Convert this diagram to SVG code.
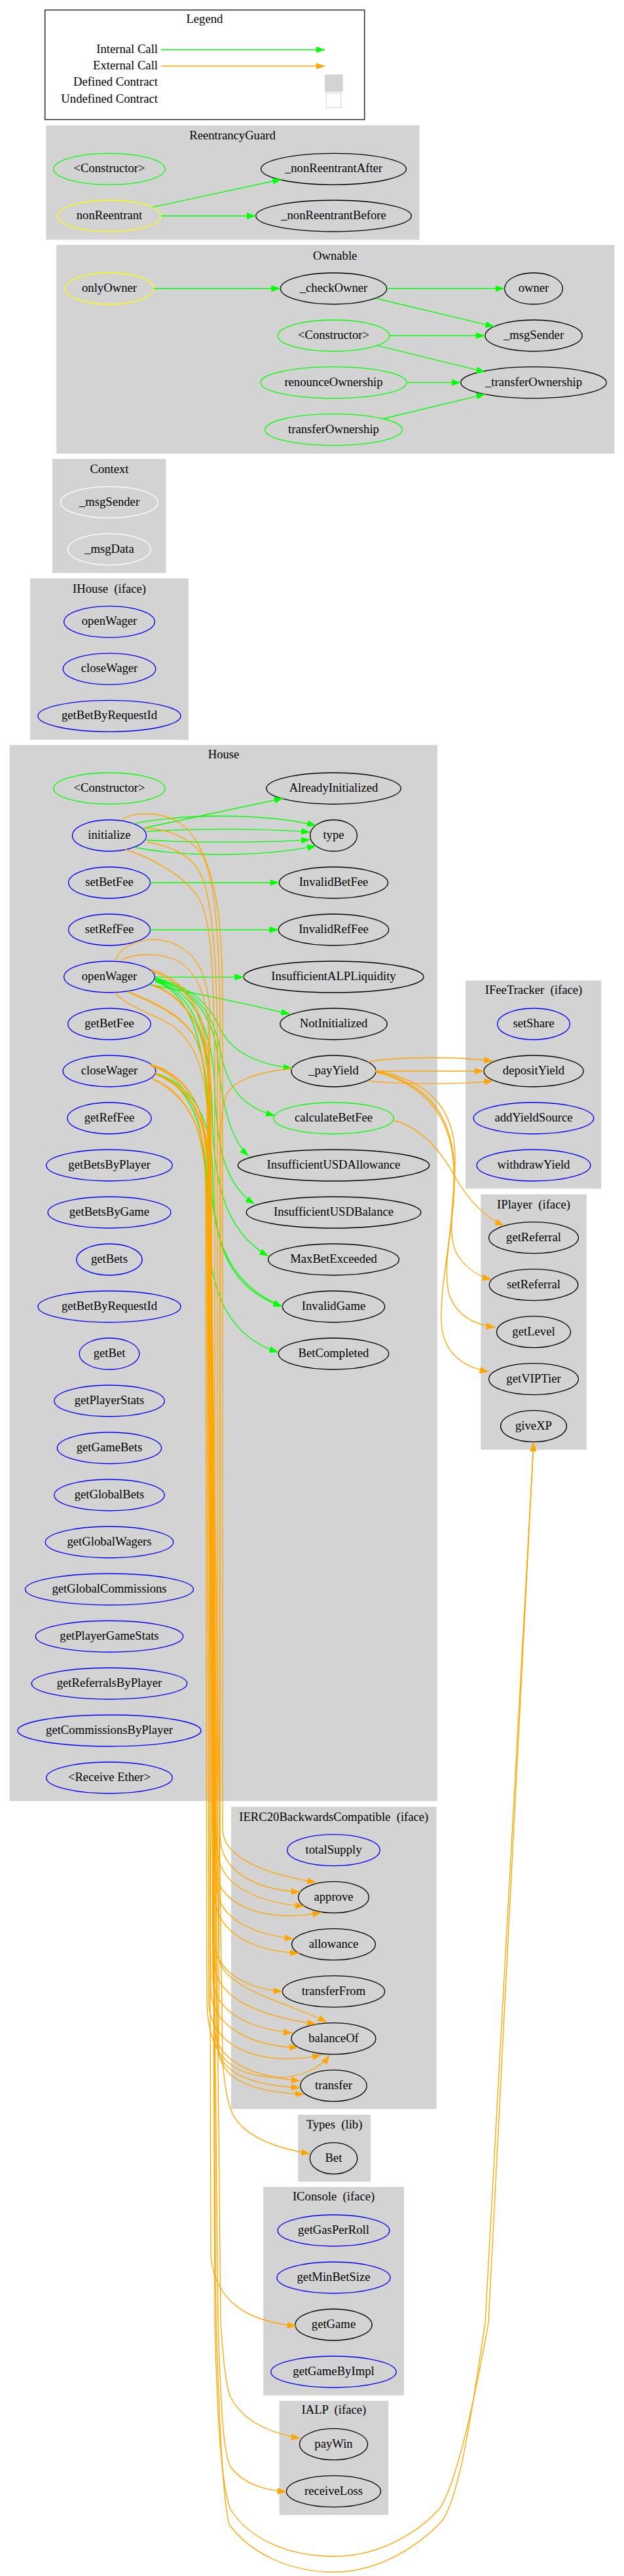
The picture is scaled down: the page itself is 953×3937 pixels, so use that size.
<svg xmlns="http://www.w3.org/2000/svg" width="953" height="3937" viewBox="0 0 953 3937">
<defs>
<style>
text{font-family:"Liberation Serif","Times New Roman",serif;font-size:18.67px;fill:#000;text-anchor:middle;white-space:pre}
.r{text-anchor:end}
.cl{fill:#d3d3d3;stroke:#d3d3d3;stroke-width:1.33}
ellipse{fill:none;stroke-width:1.33}
.g{stroke:#00ff00}.b{stroke:#0000ff}.y{stroke:#ffff00}.k{stroke:#000}.w{stroke:#fff}
.i{fill:none;stroke:#00ff00;stroke-width:1.33;marker-end:url(#ag)}
.e{fill:none;stroke:#ffa500;stroke-width:1.33;marker-end:url(#ao)}
</style>
<marker id="ag" markerUnits="userSpaceOnUse" markerWidth="14" markerHeight="10" viewBox="0 0 14 10" refX="14" refY="5" orient="auto"><path d="M0,0L14,5L0,10z" fill="#00ff00"/></marker>
<marker id="ao" markerUnits="userSpaceOnUse" markerWidth="14" markerHeight="10" viewBox="0 0 14 10" refX="14" refY="5" orient="auto"><path d="M0,0L14,5L0,10z" fill="#ffa500"/></marker>
</defs>
<rect width="953" height="3937" fill="#fff"/>

<g id="legend">
<rect x="68.7" y="15.3" width="488" height="167.4" fill="#fff" stroke="#333" stroke-width="1.6"/>
<text x="312.4" y="35">Legend</text>
<text class="r" x="241" y="81">Internal Call</text>
<text class="r" x="241" y="106">External Call</text>
<text class="r" x="241" y="131">Defined Contract</text>
<text class="r" x="241" y="157">Undefined Contract</text>
<path class="i" d="M246,76H496.5"/>
<path class="e" d="M246,101H496.5"/>
<rect x="496.5" y="114.3" width="26.7" height="25.7" fill="#d3d3d3" stroke="#d3d3d3"/>
<rect x="498.3" y="142.3" width="22.5" height="22" fill="#fff" stroke="#d3d3d3"/>
</g>

<g id="cluster_ReentrancyGuard">
<rect class="cl" x="71.1" y="192.3" width="568.8" height="173.4"/>
<text x="355" y="213">ReentrancyGuard</text>
<g id="ReentrancyGuard.ctor"><ellipse class="g" cx="167" cy="258.3" rx="85.1" ry="24"/><text x="167" y="263.3">&lt;Constructor&gt;</text></g>
<g id="ReentrancyGuard._nonReentrantAfter"><ellipse class="k" cx="509.5" cy="258.3" rx="110.9" ry="24"/><text x="509.5" y="263.3">_nonReentrantAfter</text></g>
<g id="ReentrancyGuard.nonReentrant"><ellipse class="y" cx="167" cy="330" rx="79" ry="24"/><text x="167" y="335">nonReentrant</text></g>
<g id="ReentrancyGuard._nonReentrantBefore"><ellipse class="k" cx="509.5" cy="330" rx="118.8" ry="24"/><text x="509.5" y="335">_nonReentrantBefore</text></g>
</g>

<g id="cluster_Ownable">
<rect class="cl" x="86.9" y="375" width="850.8" height="317.7"/>
<text x="511.7" y="396.7">Ownable</text>
<g id="Ownable.onlyOwner"><ellipse class="y" cx="167" cy="441" rx="67.8" ry="24"/><text x="167" y="446">onlyOwner</text></g>
<g id="Ownable._checkOwner"><ellipse class="k" cx="509.5" cy="441" rx="81.1" ry="24"/><text x="509.5" y="446">_checkOwner</text></g>
<g id="Ownable.owner"><ellipse class="k" cx="815" cy="441" rx="44.4" ry="24"/><text x="815" y="446">owner</text></g>
<g id="Ownable._msgSender"><ellipse class="k" cx="815" cy="513" rx="74.1" ry="24"/><text x="815" y="518">_msgSender</text></g>
<g id="Ownable.ctor"><ellipse class="g" cx="509.5" cy="513" rx="85.1" ry="24"/><text x="509.5" y="518">&lt;Constructor&gt;</text></g>
<g id="Ownable._transferOwnership"><ellipse class="k" cx="815" cy="584.7" rx="111.2" ry="24"/><text x="815" y="589.7">_transferOwnership</text></g>
<g id="Ownable.renounceOwnership"><ellipse class="g" cx="509.5" cy="584.7" rx="111.5" ry="24"/><text x="509.5" y="589.7">renounceOwnership</text></g>
<g id="Ownable.transferOwnership"><ellipse class="g" cx="509.5" cy="656.7" rx="104.8" ry="24"/><text x="509.5" y="661.7">transferOwnership</text></g>
</g>

<g id="cluster_Context">
<rect class="cl" x="80.8" y="702" width="172" height="173"/>
<text x="167" y="722.7">Context</text>
<g id="Context._msgSender"><ellipse class="w" cx="167" cy="767.7" rx="74.4" ry="24"/><text x="167" y="772.7">_msgSender</text></g>
<g id="Context._msgData"><ellipse class="w" cx="167" cy="839.7" rx="63.2" ry="24"/><text x="167" y="844.7">_msgData</text></g>
</g>

<g id="cluster_IHouse">
<rect class="cl" x="46.8" y="884.7" width="240.6" height="245.3"/>
<text x="167" y="905.7">IHouse  (iface)</text>
<g id="IHouse.openWager"><ellipse class="b" cx="167" cy="950.3" rx="69.3" ry="24"/><text x="167" y="955.3">openWager</text></g>
<g id="IHouse.closeWager"><ellipse class="b" cx="167" cy="1022.3" rx="70.8" ry="24"/><text x="167" y="1027.3">closeWager</text></g>
<g id="IHouse.getBetByRequestId"><ellipse class="b" cx="167" cy="1094.3" rx="109.1" ry="24"/><text x="167" y="1099.3">getBetByRequestId</text></g>
</g>

<g id="cluster_House">
<rect class="cl" x="15.2" y="1139.3" width="652" height="1612.7"/>
<text x="341.5" y="1159.3">House</text>
<g id="House.ctor"><ellipse class="g" cx="167" cy="1205" rx="85.1" ry="24"/><text x="167" y="1210">&lt;Constructor&gt;</text></g>
<g id="House.initialize"><ellipse class="b" cx="167" cy="1277" rx="56.5" ry="24"/><text x="167" y="1282">initialize</text></g>
<g id="House.setBetFee"><ellipse class="b" cx="167" cy="1349" rx="62.3" ry="24"/><text x="167" y="1354">setBetFee</text></g>
<g id="House.setRefFee"><ellipse class="b" cx="167" cy="1421" rx="62.3" ry="24"/><text x="167" y="1426">setRefFee</text></g>
<g id="House.openWager"><ellipse class="b" cx="167" cy="1493" rx="69.3" ry="24"/><text x="167" y="1498">openWager</text></g>
<g id="House.getBetFee"><ellipse class="b" cx="167" cy="1565" rx="63.2" ry="24"/><text x="167" y="1570">getBetFee</text></g>
<g id="House.closeWager"><ellipse class="b" cx="167" cy="1637" rx="70.8" ry="24"/><text x="167" y="1642">closeWager</text></g>
<g id="House.getRefFee"><ellipse class="b" cx="167" cy="1709" rx="64.1" ry="24"/><text x="167" y="1714">getRefFee</text></g>
<g id="House.getBetsByPlayer"><ellipse class="b" cx="167" cy="1781" rx="96.3" ry="24"/><text x="167" y="1786">getBetsByPlayer</text></g>
<g id="House.getBetsByGame"><ellipse class="b" cx="167" cy="1853" rx="93.9" ry="24"/><text x="167" y="1858">getBetsByGame</text></g>
<g id="House.getBets"><ellipse class="b" cx="167" cy="1925" rx="50.1" ry="24"/><text x="167" y="1930">getBets</text></g>
<g id="House.getBetByRequestId"><ellipse class="b" cx="167" cy="1997" rx="109.1" ry="24"/><text x="167" y="2002">getBetByRequestId</text></g>
<g id="House.getBet"><ellipse class="b" cx="167" cy="2069" rx="45.9" ry="24"/><text x="167" y="2074">getBet</text></g>
<g id="House.getPlayerStats"><ellipse class="b" cx="167" cy="2141" rx="84.2" ry="24"/><text x="167" y="2146">getPlayerStats</text></g>
<g id="House.getGameBets"><ellipse class="b" cx="167" cy="2213" rx="79.6" ry="24"/><text x="167" y="2218">getGameBets</text></g>
<g id="House.getGlobalBets"><ellipse class="b" cx="167" cy="2285" rx="84.2" ry="24"/><text x="167" y="2290">getGlobalBets</text></g>
<g id="House.getGlobalWagers"><ellipse class="b" cx="167" cy="2357" rx="97.8" ry="24"/><text x="167" y="2362">getGlobalWagers</text></g>
<g id="House.getGlobalCommissions"><ellipse class="b" cx="167" cy="2429" rx="128.5" ry="24"/><text x="167" y="2434">getGlobalCommissions</text></g>
<g id="House.getPlayerGameStats"><ellipse class="b" cx="167" cy="2501" rx="112.7" ry="24"/><text x="167" y="2506">getPlayerGameStats</text></g>
<g id="House.getReferralsByPlayer"><ellipse class="b" cx="167" cy="2573" rx="118.8" ry="24"/><text x="167" y="2578">getReferralsByPlayer</text></g>
<g id="House.getCommissionsByPlayer"><ellipse class="b" cx="167" cy="2645" rx="140.1" ry="24"/><text x="167" y="2650">getCommissionsByPlayer</text></g>
<g id="House.receive"><ellipse class="b" cx="167" cy="2717" rx="96.3" ry="24"/><text x="167" y="2722">&lt;Receive Ether&gt;</text></g>
<g id="House.AlreadyInitialized"><ellipse class="k" cx="509.5" cy="1205" rx="102.7" ry="24"/><text x="509.5" y="1210">AlreadyInitialized</text></g>
<g id="House.type"><ellipse class="k" cx="509.5" cy="1277" rx="35.9" ry="24"/><text x="509.5" y="1282">type</text></g>
<g id="House.InvalidBetFee"><ellipse class="k" cx="509.5" cy="1349" rx="83" ry="24"/><text x="509.5" y="1354">InvalidBetFee</text></g>
<g id="House.InvalidRefFee"><ellipse class="k" cx="509.5" cy="1421" rx="84.2" ry="24"/><text x="509.5" y="1426">InvalidRefFee</text></g>
<g id="House.InsufficientALPLiquidity"><ellipse class="k" cx="509.5" cy="1493" rx="137.5" ry="24"/><text x="509.5" y="1498">InsufficientALPLiquidity</text></g>
<g id="House.NotInitialized"><ellipse class="k" cx="509.5" cy="1565" rx="81.7" ry="24"/><text x="509.5" y="1570">NotInitialized</text></g>
<g id="House._payYield"><ellipse class="k" cx="509.5" cy="1637" rx="64.5" ry="24"/><text x="509.5" y="1642">_payYield</text></g>
<g id="House.calculateBetFee"><ellipse class="g" cx="509.5" cy="1709" rx="91.7" ry="24"/><text x="509.5" y="1714">calculateBetFee</text></g>
<g id="House.InsufficientUSDAllowance"><ellipse class="k" cx="509.5" cy="1781" rx="146.2" ry="24"/><text x="509.5" y="1786">InsufficientUSDAllowance</text></g>
<g id="House.InsufficientUSDBalance"><ellipse class="k" cx="509.5" cy="1853" rx="133.4" ry="24"/><text x="509.5" y="1858">InsufficientUSDBalance</text></g>
<g id="House.MaxBetExceeded"><ellipse class="k" cx="509.5" cy="1925" rx="100" ry="24"/><text x="509.5" y="1930">MaxBetExceeded</text></g>
<g id="House.InvalidGame"><ellipse class="k" cx="509.5" cy="1997" rx="78.1" ry="24"/><text x="509.5" y="2002">InvalidGame</text></g>
<g id="House.BetCompleted"><ellipse class="k" cx="509.5" cy="2069" rx="84.2" ry="24"/><text x="509.5" y="2074">BetCompleted</text></g>
</g>

<g id="cluster_IFeeTracker">
<rect class="cl" x="711.7" y="1499.3" width="205.9" height="316.7"/>
<text x="815" y="1519.3">IFeeTracker  (iface)</text>
<g id="IFeeTracker.setShare"><ellipse class="b" cx="815" cy="1565" rx="55.3" ry="24"/><text x="815" y="1570">setShare</text></g>
<g id="IFeeTracker.depositYield"><ellipse class="k" cx="815" cy="1637" rx="76" ry="24"/><text x="815" y="1642">depositYield</text></g>
<g id="IFeeTracker.addYieldSource"><ellipse class="b" cx="815" cy="1709" rx="91.8" ry="24"/><text x="815" y="1714">addYieldSource</text></g>
<g id="IFeeTracker.withdrawYield"><ellipse class="b" cx="815" cy="1781" rx="86.9" ry="24"/><text x="815" y="1786">withdrawYield</text></g>
</g>

<g id="cluster_IPlayer">
<rect class="cl" x="735" y="1826" width="160.1" height="389"/>
<text x="815" y="1846.7">IPlayer  (iface)</text>
<g id="IPlayer.getReferral"><ellipse class="k" cx="815" cy="1891.7" rx="68.4" ry="24"/><text x="815" y="1896.7">getReferral</text></g>
<g id="IPlayer.setReferral"><ellipse class="k" cx="815" cy="1963.7" rx="67.8" ry="24"/><text x="815" y="1968.7">setReferral</text></g>
<g id="IPlayer.getLevel"><ellipse class="k" cx="815" cy="2035.7" rx="56.5" ry="24"/><text x="815" y="2040.7">getLevel</text></g>
<g id="IPlayer.getVIPTier"><ellipse class="k" cx="815" cy="2107.7" rx="68.4" ry="24"/><text x="815" y="2112.7">getVIPTier</text></g>
<g id="IPlayer.giveXP"><ellipse class="k" cx="815" cy="2179.7" rx="50.4" ry="24"/><text x="815" y="2184.7">giveXP</text></g>
</g>

<g id="cluster_IERC20BackwardsCompatible">
<rect class="cl" x="353.7" y="2762" width="312.3" height="460.7"/>
<text x="509.8" y="2782.7">IERC20BackwardsCompatible  (iface)</text>
<g id="IERC20.totalSupply"><ellipse class="b" cx="509.5" cy="2827.7" rx="70.8" ry="24"/><text x="509.5" y="2832.7">totalSupply</text></g>
<g id="IERC20.approve"><ellipse class="k" cx="509.5" cy="2899.7" rx="53.8" ry="24"/><text x="509.5" y="2904.7">approve</text></g>
<g id="IERC20.allowance"><ellipse class="k" cx="509.5" cy="2971.7" rx="63.8" ry="24"/><text x="509.5" y="2976.7">allowance</text></g>
<g id="IERC20.transferFrom"><ellipse class="k" cx="509.5" cy="3043.7" rx="78.1" ry="24"/><text x="509.5" y="3048.7">transferFrom</text></g>
<g id="IERC20.balanceOf"><ellipse class="k" cx="509.5" cy="3115.7" rx="64.4" ry="24"/><text x="509.5" y="3120.7">balanceOf</text></g>
<g id="IERC20.transfer"><ellipse class="k" cx="509.5" cy="3187.7" rx="50.7" ry="24"/><text x="509.5" y="3192.7">transfer</text></g>
</g>

<g id="cluster_Types">
<rect class="cl" x="455.8" y="3232.7" width="109.4" height="101"/>
<text x="510.5" y="3253.3">Types  (lib)</text>
<g id="Types.Bet"><ellipse class="k" cx="509.5" cy="3298.7" rx="36.2" ry="24"/><text x="509.5" y="3303.7">Bet</text></g>
</g>

<g id="cluster_IConsole">
<rect class="cl" x="402.9" y="3343" width="213.3" height="317.3"/>
<text x="509.6" y="3363.3">IConsole  (iface)</text>
<g id="IConsole.getGasPerRoll"><ellipse class="b" cx="509.5" cy="3409" rx="85.4" ry="24"/><text x="509.5" y="3414">getGasPerRoll</text></g>
<g id="IConsole.getMinBetSize"><ellipse class="b" cx="509.5" cy="3481" rx="86.6" ry="24"/><text x="509.5" y="3486">getMinBetSize</text></g>
<g id="IConsole.getGame"><ellipse class="k" cx="509.5" cy="3553" rx="58.6" ry="24"/><text x="509.5" y="3558">getGame</text></g>
<g id="IConsole.getGameByImpl"><ellipse class="b" cx="509.5" cy="3625" rx="95.7" ry="24"/><text x="509.5" y="3630">getGameByImpl</text></g>
</g>

<g id="cluster_IALP">
<rect class="cl" x="427.2" y="3670" width="165.3" height="173"/>
<text x="509.9" y="3689.3">IALP  (iface)</text>
<g id="IALP.payWin"><ellipse class="k" cx="509.5" cy="3735.7" rx="52" ry="24"/><text x="509.5" y="3740.7">payWin</text></g>
<g id="IALP.receiveLoss"><ellipse class="k" cx="509.5" cy="3807.7" rx="72" ry="24"/><text x="509.5" y="3812.7">receiveLoss</text></g>
</g>

<g id="edges">
<!-- internal calls -->
<path class="i" d="M232.7,316.7L430.2,274"/>
<path class="i" d="M246.1,330H390.8"/>
<path class="i" d="M234.6,441H428.4"/>
<path class="i" d="M590.7,441H770.6"/>
<path class="i" d="M574.3,456L755.4,499.3"/>
<path class="i" d="M594.9,513H740.8"/>
<path class="i" d="M577.3,528.3L741.4,568.7"/>
<path class="i" d="M621.1,584.7H703.7"/>
<path class="i" d="M585.2,640L741.4,602.3"/>
<path class="i" d="M217.6,1266L432.7,1220"/>
<path class="i" d="M206.6,1258.3C280,1244 400,1242 483.1,1261.7"/>
<path class="i" d="M223.6,1270.7C300,1266 400,1266 474,1271.7"/>
<path class="i" d="M223.6,1284C300,1288 400,1288 474,1283.3"/>
<path class="i" d="M206.6,1295C280,1310 400,1310 483.1,1292.7"/>
<path class="i" d="M229.1,1349H426.6"/>
<path class="i" d="M229.1,1421H425.4"/>
<path class="i" d="M236.7,1493.3H372.3"/>
<path class="i" d="M228.3,1505C300,1518 380,1535 443.3,1550"/>
<path class="i" d="M237,1495C290,1505 320,1535 337,1573C350,1600 380,1625 446.7,1632.7"/>
<path class="i" d="M237,1496C295,1510 325,1545 335,1600C345,1650 360,1690 420,1705"/>
<path class="i" d="M237,1497C300,1512 328,1560 333,1620C338,1680 350,1740 379.8,1766.7"/>
<path class="i" d="M237,1498C300,1515 325,1580 328,1660C330,1740 340,1810 388.9,1840"/>
<path class="i" d="M237,1499C300,1518 322,1600 324,1700C326,1800 340,1880 410.2,1920"/>
<path class="i" d="M237,1500C300,1520 318,1620 320,1760C321,1880 340,1960 431.5,1996.7"/>
<path class="i" d="M237,1640C300,1660 325,1720 325,1800C325,1900 350,1970 431.5,1996.7"/>
<path class="i" d="M237,1641C295,1660 318,1730 317,1850C316,1960 340,2040 425.4,2066.7"/>
<!-- external calls -->
<path class="e" d="M185,1254C200,1240 250,1238 280,1262C305,1282 325,1330 334,1400C338,1440 340,1480 340,1530L340,2795C340,2840 410,2866 483.1,2876.7"/>
<path class="e" d="M219,1266C255,1266 290,1280 308,1305C325,1335 334,1400 336,1550L336,2805C336,2860 390,2888 458.8,2891.7"/>
<path class="e" d="M224,1287C258,1292 285,1305 300,1325C318,1350 330,1410 332,1590L332,2825C332,2880 390,2908 464.9,2913.3"/>
<path class="e" d="M191,1298C230,1310 285,1340 305,1375C320,1405 326,1450 328,1630L328,2850C328,2915 410,2940 491,2922.7"/>
<path class="e" d="M176,1469C185,1440 230,1428 265,1442C295,1455 315,1480 320,1540L326,2960C326,3010 370,3038 431.5,3044"/>
<path class="e" d="M185,1468C200,1458 240,1455 268,1467C295,1480 312,1510 318,1560L331,2880C331,2930 380,2955 448.5,2963.3"/>
<path class="e" d="M231,1482C262,1490 292,1515 306,1555C316,1585 320,1620 322,1660L328,2895C328,2950 380,2982 457,2985"/>
<path class="e" d="M233,1505C270,1518 300,1550 312,1600C318,1630 320,1660 320,1700L334,2990C338,3040 440,3060 499.5,3090.7"/>
<path class="e" d="M176,1517C190,1535 220,1545 250,1560C290,1580 310,1620 316,1690L328,3000C328,3055 400,3082 483.1,3093.3"/>
<path class="e" d="M195,1515C230,1530 270,1545 295,1580C310,1610 318,1650 320,1710L340,3150C344,3200 350,3230 365,3245C385,3268 420,3283 474,3291.7"/>
<path class="e" d="M231,1484C265,1495 295,1520 308,1570C316,1600 318,1640 318,1700L322,3450C330,3520 380,3548 452.7,3555"/>
<path class="e" d="M195,1516C232,1532 272,1548 296,1582C312,1612 318,1652 318,1720L330,3550C335,3700 340,3820 350,3858C380,3900 440,3931 510,3931C580,3931 640,3890 675,3853C705,3810 724,3660 741,3550L815,2204"/>
<path class="e" d="M233,1506C272,1520 302,1555 312,1605C318,1640 322,1680 322,1720L328,3100C328,3150 390,3175 458.8,3180"/>
<path class="e" d="M230,1627C262,1635 292,1660 305,1700C314,1730 318,1770 318,1820L325,3020C325,3075 380,3100 446.7,3107.3"/>
<path class="e" d="M237,1640C270,1652 298,1680 308,1720C316,1750 318,1790 318,1840L322,3040C322,3100 390,3128 455.8,3129.3"/>
<path class="e" d="M232,1648C265,1662 292,1690 304,1735C312,1765 316,1800 316,1850L319,3060C320,3130 400,3160 491,3140.7"/>
<path class="e" d="M230,1628C264,1637 294,1664 307,1705C316,1735 320,1775 320,1830L331,3120C331,3170 390,3188 458.8,3190.7"/>
<path class="e" d="M237,1641C272,1654 300,1684 310,1725C318,1760 320,1800 320,1860L337,3550C342,3620 346,3650 352,3663C370,3700 410,3718 458.8,3726.7"/>
<path class="e" d="M232,1649C266,1664 294,1694 306,1740C314,1770 316,1810 316,1860L333,3550C338,3700 342,3750 352,3770C370,3795 400,3805 437.5,3808.3"/>
<path class="e" d="M237,1642C274,1656 302,1688 312,1730C320,1765 322,1805 322,1870L328,3550C332,3700 338,3800 352,3835C380,3880 440,3907 510,3907C580,3907 640,3870 672,3833C700,3790 728,3650 746,3550L815,2204"/>
<path class="e" d="M230,1629C262,1638 290,1666 302,1710C310,1740 314,1780 314,1830L316,3060C318,3140 350,3172 420,3175C460,3176 490,3160 503,3141"/>
<path class="e" d="M446.7,1633C400,1637 355,1650 345,1675C338,1695 337,1720 337,1750L334,3130C334,3180 390,3198 464.9,3200.7"/>
<path class="e" d="M561.7,1623.2C600,1615 700,1614 753.3,1622"/>
<path class="e" d="M574,1637H739"/>
<path class="e" d="M561.7,1651.8C600,1657 700,1658 753.3,1651.8"/>
<path class="e" d="M601.7,1712.5C650,1725 680,1770 700,1807C720,1840 745,1862 770,1873.2"/>
<path class="e" d="M573,1636C650,1650 695,1690 695,1770C695,1840 680,1890 700,1920C715,1942 735,1952 750.7,1955.4"/>
<path class="e" d="M573,1637C650,1655 692,1700 694,1790C696,1870 675,1920 685,1975C695,2010 725,2025 756.7,2028.6"/>
<path class="e" d="M573,1638C660,1660 697,1720 693,1810C690,1900 672,1960 674,2020C676,2070 710,2090 746.7,2096.4"/>
</g>
</svg>
